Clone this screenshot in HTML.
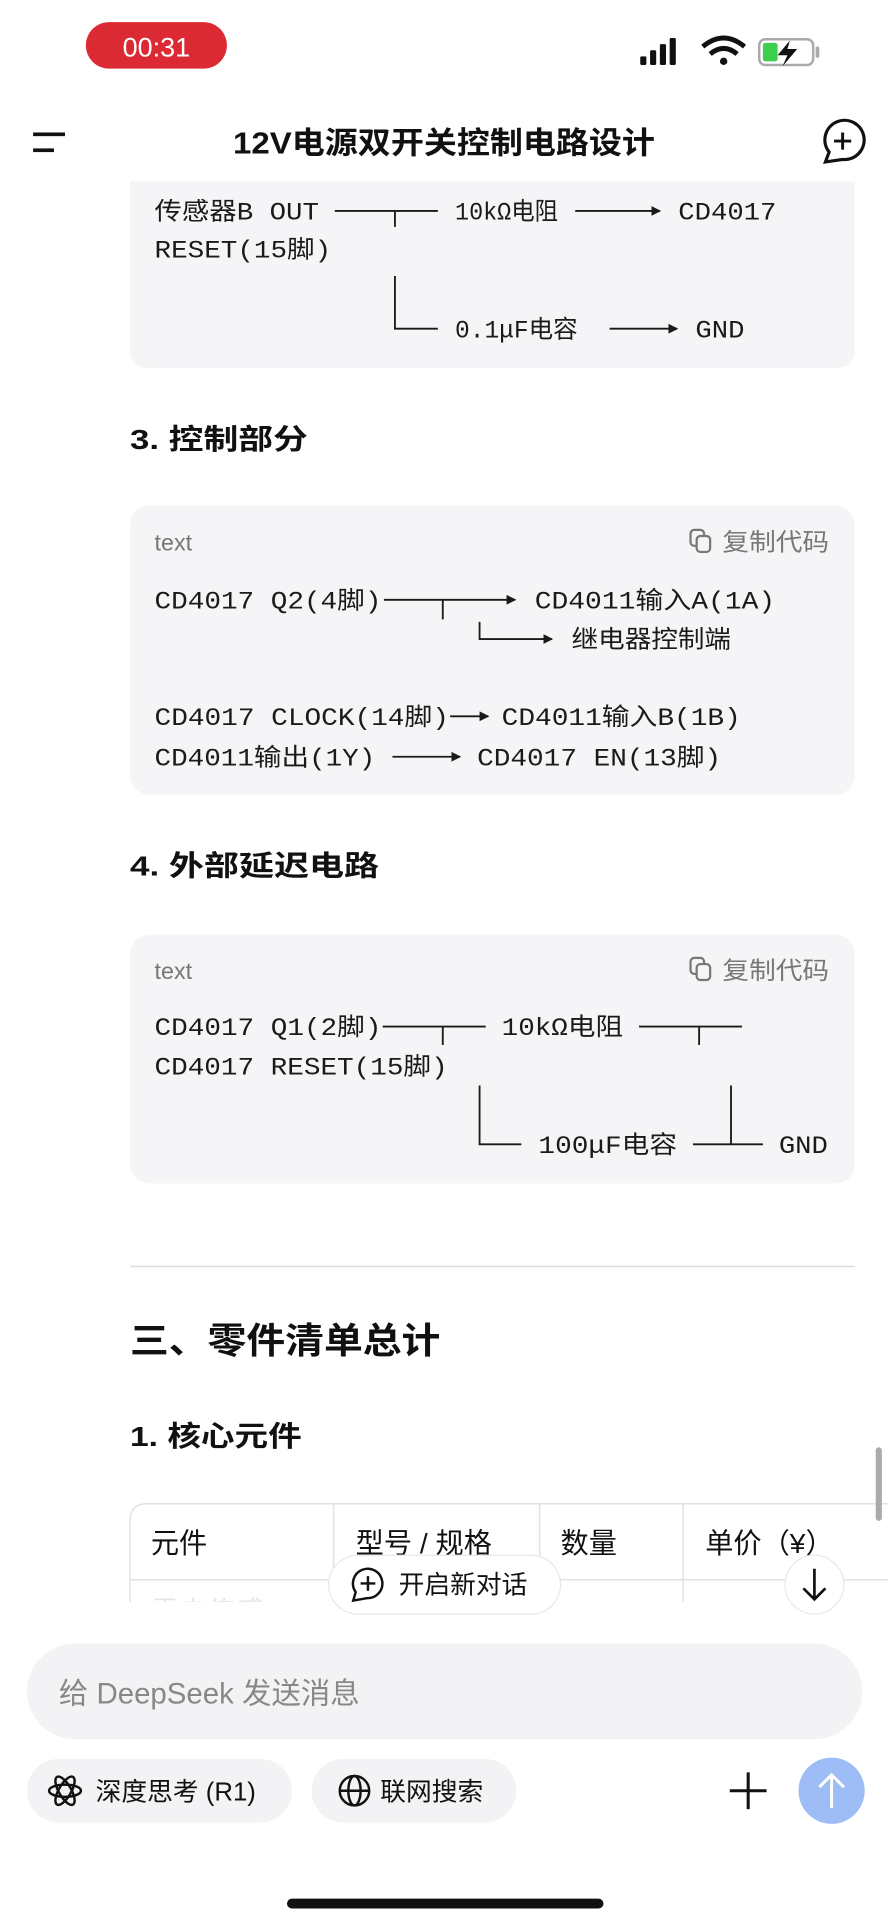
<!DOCTYPE html>
<html><head><meta charset="utf-8"><style>
html,body{margin:0;padding:0;background:#fff;width:888px;height:1920px;overflow:hidden}
svg{display:block}
.s{font-family:"Liberation Sans","Noto Sans CJK SC",sans-serif}
.m{font-family:"Liberation Mono","Noto Sans CJK SC",monospace;font-size:20px;fill:#1a1a1a}
</style></head><body>
<svg width="888" height="1920" viewBox="0 0 724 1565.4" preserveAspectRatio="none" xmlns="http://www.w3.org/2000/svg">
<defs><marker id="a" markerWidth="8" markerHeight="8" refX="7" refY="4" orient="auto" markerUnits="userSpaceOnUse"><path d="M0,0L8,4L0,8z" fill="#1a1a1a"/></marker></defs>
<!-- status bar -->
<rect x="70" y="18" width="115" height="38" rx="19" fill="#dc2a34"/>
<text x="127.5" y="46" class="s" font-size="22" fill="#fff" text-anchor="middle">00:31</text>
<g fill="#111"><rect x="522" y="46" width="5" height="7" rx="1"/><rect x="530" y="41" width="5" height="12" rx="1"/><rect x="538" y="36" width="5" height="17" rx="1"/><rect x="546" y="31" width="5" height="22" rx="1"/></g>
<path d="M573,38 Q590,24 607,38" stroke="#111" stroke-width="4" fill="none"/><path d="M579,44 Q590,35 601,44" stroke="#111" stroke-width="4" fill="none"/><circle cx="590" cy="50" r="3" fill="#111"/>
<rect x="619" y="32" width="44" height="21" rx="5" fill="none" stroke="#aaa" stroke-width="2"/><rect x="622" y="35" width="12" height="15" rx="2" fill="#3ccf4e"/><rect x="665" y="38" width="3" height="9" rx="1" fill="#aaa"/>
<path d="M644,33 L634,45 L642,45 L638,54 L650,40 L642,40 Z" fill="#111"/>
<!-- header -->
<rect x="27" y="108" width="26" height="3" fill="#111"/><rect x="27" y="121" width="17" height="3" fill="#111"/>
<text x="362" y="125" class="s" font-size="25" font-weight="bold" fill="#111" text-anchor="middle" textLength="344" lengthAdjust="spacingAndGlyphs">12V电源双开关控制电路设计</text>
<path d="M687,130 L673,132 L676,124 A16,16 0 1 1 687,130 Z" fill="none" stroke="#111" stroke-width="2.6"/>
<path d="M687,108 v14 M680,115 h14" stroke="#111" stroke-width="2.4"/>
<!-- box1 -->
<path d="M106,148 H697 V285 Q697,300 682,300 H121 Q106,300 106,285 Z" fill="#f5f5f7"/>
<text x="126" y="179" class="m" textLength="134" lengthAdjust="spacingAndGlyphs">传感器B OUT</text>
<path d="M273,172 H357 M322,172 V185" stroke="#1a1a1a" stroke-width="1.5"/>
<text x="371" y="179" class="m" textLength="84" lengthAdjust="spacingAndGlyphs">10kΩ电阻</text>
<path d="M469,172 H538" stroke="#1a1a1a" stroke-width="1.5" marker-end="url(#a)"/>
<text x="553" y="179" class="m" textLength="80" lengthAdjust="spacingAndGlyphs">CD4017</text>
<text x="126" y="210" class="m" textLength="144" lengthAdjust="spacingAndGlyphs">RESET(15脚)</text>
<path d="M322,225 V268 H357" stroke="#1a1a1a" stroke-width="1.5" fill="none"/>
<text x="371" y="275" class="m" textLength="100" lengthAdjust="spacingAndGlyphs">0.1μF电容</text>
<path d="M497,268 H552" stroke="#1a1a1a" stroke-width="1.5" marker-end="url(#a)"/>
<text x="567" y="275" class="m" textLength="40" lengthAdjust="spacingAndGlyphs">GND</text>
<!-- section 3 -->
<text x="106" y="366" class="s" font-size="23" font-weight="bold" fill="#111" textLength="145" lengthAdjust="spacingAndGlyphs">3. 控制部分</text>
<rect x="106" y="412" width="591" height="236" rx="16" fill="#f5f5f7"/>
<text x="126" y="449" class="s" font-size="19" fill="#777">text</text>
<rect x="563" y="432" width="11" height="13" rx="3" fill="none" stroke="#777" stroke-width="1.8"/><rect x="568" y="437" width="11" height="13" rx="3" fill="#f5f5f7" stroke="#777" stroke-width="1.8"/>
<text x="589" y="449" class="s" font-size="20" fill="#777" textLength="87" lengthAdjust="spacingAndGlyphs">复制代码</text>
<text x="126" y="496" class="m" textLength="185" lengthAdjust="spacingAndGlyphs">CD4017 Q2(4脚)</text>
<path d="M313,489 H420" stroke="#1a1a1a" stroke-width="1.5" marker-end="url(#a)"/>
<path d="M361,489 V505" stroke="#1a1a1a" stroke-width="1.5"/>
<text x="436" y="496" class="m" textLength="196" lengthAdjust="spacingAndGlyphs">CD4011输入A(1A)</text>
<path d="M391,507 V521 H450" stroke="#1a1a1a" stroke-width="1.5" fill="none" marker-end="url(#a)"/>
<text x="466" y="528" class="m" textLength="130" lengthAdjust="spacingAndGlyphs">继电器控制端</text>
<text x="126" y="591" class="m" textLength="240" lengthAdjust="spacingAndGlyphs">CD4017 CLOCK(14脚)</text>
<path d="M367,584 H398" stroke="#1a1a1a" stroke-width="1.5" marker-end="url(#a)"/>
<text x="409" y="591" class="m" textLength="195" lengthAdjust="spacingAndGlyphs">CD4011输入B(1B)</text>
<text x="126" y="624" class="m" textLength="180" lengthAdjust="spacingAndGlyphs">CD4011输出(1Y)</text>
<path d="M320,617 H375" stroke="#1a1a1a" stroke-width="1.5" marker-end="url(#a)"/>
<text x="389" y="624" class="m" textLength="199" lengthAdjust="spacingAndGlyphs">CD4017 EN(13脚)</text>
<!-- section 4 -->
<text x="106" y="714" class="s" font-size="23" font-weight="bold" fill="#111" textLength="203" lengthAdjust="spacingAndGlyphs">4. 外部延迟电路</text>
<rect x="106" y="762" width="591" height="203" rx="16" fill="#f5f5f7"/>
<text x="126" y="798" class="s" font-size="19" fill="#777">text</text>
<rect x="563" y="781" width="11" height="13" rx="3" fill="none" stroke="#777" stroke-width="1.8"/><rect x="568" y="786" width="11" height="13" rx="3" fill="#f5f5f7" stroke="#777" stroke-width="1.8"/>
<text x="589" y="798" class="s" font-size="20" fill="#777" textLength="87" lengthAdjust="spacingAndGlyphs">复制代码</text>
<text x="126" y="844" class="m" textLength="185" lengthAdjust="spacingAndGlyphs">CD4017 Q1(2脚)</text>
<path d="M312,837 H396 M361,837 V852" stroke="#1a1a1a" stroke-width="1.5"/>
<text x="409" y="844" class="m" textLength="99" lengthAdjust="spacingAndGlyphs">10kΩ电阻</text>
<path d="M521,837 H605 M570,837 V852" stroke="#1a1a1a" stroke-width="1.5"/>
<text x="126" y="876" class="m" textLength="239" lengthAdjust="spacingAndGlyphs">CD4017 RESET(15脚)</text>
<path d="M391,885 V933 H425" stroke="#1a1a1a" stroke-width="1.5" fill="none"/>
<text x="439" y="940" class="m" textLength="113" lengthAdjust="spacingAndGlyphs">100μF电容</text>
<path d="M565,933 H622 M596,885 V933" stroke="#1a1a1a" stroke-width="1.5"/>
<text x="635" y="940" class="m" textLength="40" lengthAdjust="spacingAndGlyphs">GND</text>
<!-- hr -->
<rect x="106" y="1032" width="591" height="1.2" fill="#ddd"/>
<text x="106" y="1103" class="s" font-size="29" font-weight="bold" fill="#111" textLength="253" lengthAdjust="spacingAndGlyphs">三、零件清单总计</text>
<text x="106" y="1179" class="s" font-size="23" font-weight="bold" fill="#111" textLength="140" lengthAdjust="spacingAndGlyphs">1. 核心元件</text>
<!-- table -->
<path d="M724,1226 H120 Q106,1226 106,1240 V1320" fill="none" stroke="#e2e2e2" stroke-width="1.2"/>
<path d="M272,1226 V1320 M440,1226 V1320 M557,1226 V1320 M106,1288 H724" stroke="#e2e2e2" stroke-width="1.2"/>
<g class="s" font-size="23" fill="#111">
<text x="123" y="1266">元件</text><text x="290" y="1266">型号 / 规格</text><text x="457" y="1266">数量</text><text x="575" y="1266">单价（¥）</text>
</g>
<g class="s" font-size="23" fill="#ccc" opacity="0.5"><text x="123" y="1322">雷电传感</text><text x="457" y="1322">2</text><text x="575" y="1322">2.5</text></g>
<rect x="0" y="1306" width="724" height="259" fill="#fff"/>
<!-- floating -->
<rect x="268" y="1268" width="189" height="48" rx="24" fill="#fff" stroke="#e8e8e8"/>
<path d="M299,1303 L288,1305 L290,1298 A12,12 0 1 1 299,1303 Z" fill="none" stroke="#111" stroke-width="2"/>
<path d="M300,1285 v12 M294,1291 h12" stroke="#111" stroke-width="2"/>
<text x="325" y="1299" class="s" font-size="21" fill="#111">开启新对话</text>
<circle cx="664" cy="1292" r="24" fill="#fff" stroke="#e8e8e8"/>
<path d="M664,1279 V1304 M655,1295 L664,1304 L673,1295" fill="none" stroke="#111" stroke-width="2.2"/>
<rect x="714" y="1180" width="5" height="60" rx="2.5" fill="#aaa"/>
<!-- input -->
<rect x="22" y="1340" width="681" height="78" rx="39" fill="#f3f3f5"/>
<text x="48" y="1389" class="s" font-size="24" fill="#888">给 DeepSeek 发送消息</text>
<rect x="22" y="1434" width="216" height="52" rx="26" fill="#f3f3f5"/>
<g stroke="#111" stroke-width="2" fill="none"><ellipse cx="53" cy="1460" rx="13" ry="5"/><ellipse cx="53" cy="1460" rx="13" ry="5" transform="rotate(60 53 1460)"/><ellipse cx="53" cy="1460" rx="13" ry="5" transform="rotate(-60 53 1460)"/></g>
<text x="78" y="1468" class="s" font-size="21" fill="#111">深度思考 (R1)</text>
<rect x="254" y="1434" width="167" height="52" rx="26" fill="#f3f3f5"/>
<g stroke="#111" stroke-width="2" fill="none"><circle cx="289" cy="1460" r="12"/><ellipse cx="289" cy="1460" rx="5" ry="12"/><path d="M277,1460 H301"/></g>
<text x="310" y="1468" class="s" font-size="21" fill="#111">联网搜索</text>
<path d="M610,1445 V1475 M595,1460 H625" stroke="#111" stroke-width="2.5"/>
<circle cx="678" cy="1460" r="27" fill="#9ebcf5"/>
<path d="M678,1474 V1447 M668,1457 L678,1447 L688,1457" fill="none" stroke="#fff" stroke-width="2.4"/>
<rect x="234" y="1548" width="258" height="8" rx="4" fill="#111"/>
</svg>
</body></html>
